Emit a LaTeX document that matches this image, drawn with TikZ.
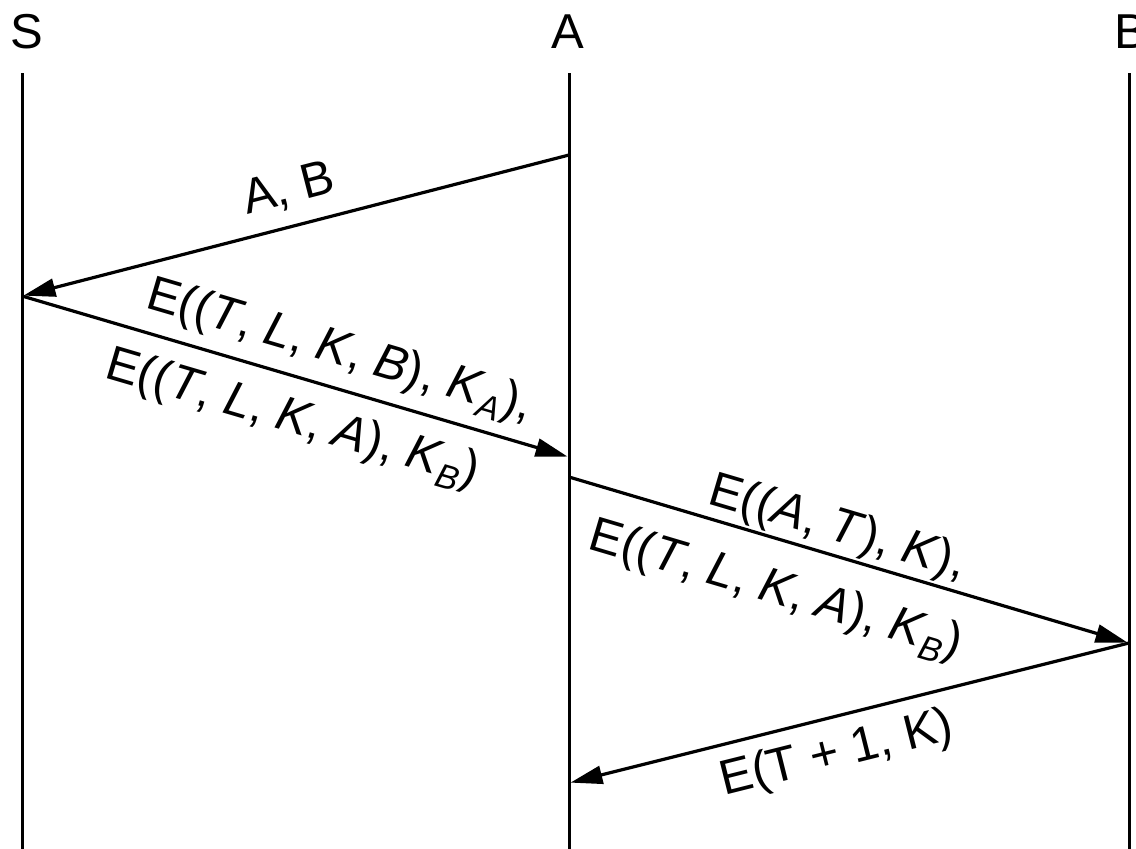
\documentclass[tikz,border=0pt]{standalone}
\usepackage{fontspec}
\setmainfont{Liberation Sans}
\usetikzlibrary{arrows.meta}
\newcommand{\itl}[1]{\textit{#1}}
\newcommand{\sbs}[1]{\raisebox{-0.22em}{\fontsize{34}{34}\selectfont\itshape #1}}
\begin{document}
\begin{tikzpicture}[x=1pt,y=-1pt,
  lbl/.style={font=\fontsize{49}{52}\selectfont, inner sep=0pt, anchor=base},
  life/.style={line width=3pt},
  msg/.style={line width=3.2pt, -{Triangle[length=32pt,width=18pt]}, shorten >=1.5pt}]
\useasboundingbox (0,0) rectangle (1136,849);
% heads
\node[lbl] (hS) at (27,48) {S};
\node[lbl] (hA) at (568,48) {A};
\node[lbl] (hB) at (1131,48) {B};
% lifelines
\coordinate (Stop) at (22,73);   \coordinate (Sbot) at (22,849);
\coordinate (Atop) at (569,73);  \coordinate (Abot) at (569,849);
\coordinate (Btop) at (1129,73); \coordinate (Bbot) at (1129,849);
\draw[life] (Stop) -- (Sbot);
\draw[life] (Atop) -- (Abot);
\draw[life] (Btop) -- (Bbot);
% message endpoints
\coordinate (m1a) at (569,155);
\coordinate (m1s) at (22,296);
\coordinate (m2a) at (569,457);
\coordinate (m3a) at (569,477);
\coordinate (m3b) at (1129,643);
\coordinate (m4a) at (569,783);
\draw[msg] (m1a) -- (m1s);
\draw[msg] (m1s) -- (m2a);
\draw[msg] (m3a) -- (m3b);
\draw[msg] (m3b) -- (m4a);
% labels
\node[lbl, rotate=14.45] (l1) at (292,203) {A, B};
\node[lbl, rotate=-16.4] (l2a) at (336,364) {E((\itl{T}, \itl{L}, \itl{K}, \itl{B}), \itl{K}\sbs{A}),};
\node[lbl, rotate=-16.4] (l2b) at (289,432) {E((\itl{T}, \itl{L}, \itl{K}, \itl{A}), \itl{K}\sbs{B})};
\node[lbl, rotate=-16.5] (l3a) at (834,541) {E((\itl{A}, \itl{T}), \itl{K}),};
\node[lbl, rotate=-16.5] (l3b) at (772,603) {E((\itl{T}, \itl{L}, \itl{K}, \itl{A}), \itl{K}\sbs{B})};
\node[lbl, rotate=14.04] (l4) at (840,767) {E(T + 1, K)};
\end{tikzpicture}
\end{document}
